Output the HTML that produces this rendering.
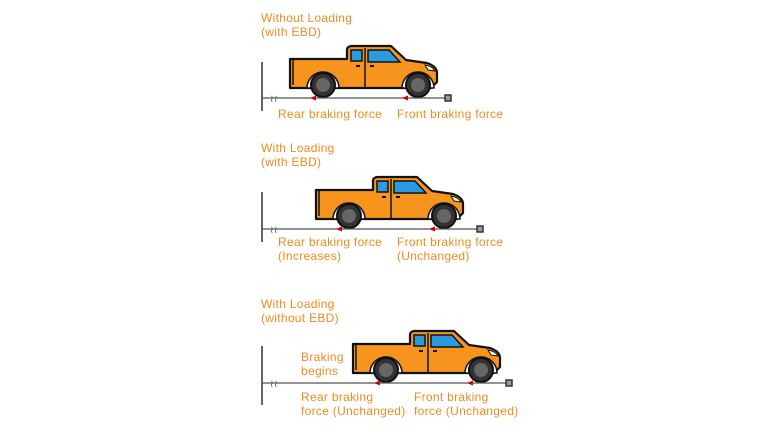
<!DOCTYPE html>
<html><head><style>
body{margin:0;background:#fff;width:770px;height:440px;overflow:hidden}
svg{position:absolute;left:0;top:0}
text{font-family:"Liberation Sans",sans-serif;font-size:12px;letter-spacing:0.3px;fill:#f28a1e}
</style></head><body>
<svg width="770" height="440" viewBox="0 0 770 440">
<defs>
<g id="truck">
<path d="M0,14 L57,14 L57,4 Q58,1 62,1 L101,1 L116,15 L137,18 Q146,21 147,27 L147,37 L141,43 L0,43 Z" fill="#f7941d" stroke="#111" stroke-width="2.2" stroke-linejoin="round"/>
<line x1="3" y1="15" x2="3" y2="40" stroke="#111" stroke-width="1.5"/>
<path d="M61,5 L72,5 L72,16 L61,16 Z" fill="#2a9be0" stroke="#111" stroke-width="1.5"/>
<path d="M78,5 L99,5 L110,17 L78,17 Z" fill="#2a9be0" stroke="#111" stroke-width="1.5"/>
<line x1="75" y1="3" x2="75" y2="42" stroke="#111" stroke-width="1.5"/>
<line x1="66" y1="21" x2="70" y2="21" stroke="#111" stroke-width="2"/>
<line x1="80" y1="21" x2="84" y2="21" stroke="#111" stroke-width="2"/>
<path d="M135,20 Q142,21 145,26 L138,25 Z" fill="#fff" stroke="#111" stroke-width="1"/>
<path d="M17,43 A16,16 0 0 1 49,43 Z" fill="#fff" stroke="#111" stroke-width="1.5"/>
<path d="M112,43 A16,16 0 0 1 144,43 Z" fill="#fff" stroke="#111" stroke-width="1.5"/>
<circle cx="33" cy="40" r="12" fill="#333" stroke="#111" stroke-width="2"/>
<circle cx="33" cy="40" r="7" fill="#666"/>
<circle cx="128" cy="40" r="12" fill="#333" stroke="#111" stroke-width="2"/>
<circle cx="128" cy="40" r="7" fill="#666"/>
</g>
</defs>

<text x="261" y="22">Without Loading</text>
<text x="261" y="36">(with EBD)</text>
<line x1="262" y1="62" x2="262" y2="111" stroke="#333" stroke-width="1.5"/>
<use href="#truck" x="290" y="45"/>
<line x1="262" y1="98" x2="446" y2="98" stroke="#555" stroke-width="1.3"/>
<rect x="445" y="95" width="6" height="6" fill="#999" stroke="#333" stroke-width="1.5"/>
<text x="270" y="102" style="font-size:10px;fill:#555">≀≀</text>
<path d="M310,98 L316,95.5 L316,100.5 Z" fill="#c00"/>
<path d="M402,98 L408,95.5 L408,100.5 Z" fill="#c00"/>
<text x="278" y="118">Rear braking force</text>
<text x="397" y="118">Front braking force</text>

<text x="261" y="152">With Loading</text>
<text x="261" y="166">(with EBD)</text>
<line x1="262" y1="192" x2="262" y2="242" stroke="#333" stroke-width="1.5"/>
<use href="#truck" x="316" y="176"/>
<line x1="262" y1="229" x2="478" y2="229" stroke="#555" stroke-width="1.3"/>
<rect x="477" y="226" width="6" height="6" fill="#999" stroke="#333" stroke-width="1.5"/>
<text x="270" y="233" style="font-size:10px;fill:#555">≀≀</text>
<path d="M336,229 L342,226.5 L342,231.5 Z" fill="#c00"/>
<path d="M429,229 L435,226.5 L435,231.5 Z" fill="#c00"/>
<text x="278" y="246">Rear braking force</text>
<text x="278" y="260">(Increases)</text>
<text x="397" y="246">Front braking force</text>
<text x="397" y="260">(Unchanged)</text>

<text x="261" y="308">With Loading</text>
<text x="261" y="322">(without EBD)</text>
<line x1="262" y1="346" x2="262" y2="405" stroke="#333" stroke-width="1.5"/>
<use href="#truck" x="353" y="330"/>
<line x1="262" y1="383" x2="507" y2="383" stroke="#555" stroke-width="1.3"/>
<rect x="506" y="380" width="6" height="6" fill="#999" stroke="#333" stroke-width="1.5"/>
<text x="270" y="387" style="font-size:10px;fill:#555">≀≀</text>
<path d="M374,383 L380,380.5 L380,385.5 Z" fill="#c00"/>
<path d="M467,383 L473,380.5 L473,385.5 Z" fill="#c00"/>
<text x="301" y="361">Braking</text>
<text x="301" y="375">begins</text>
<text x="301" y="401">Rear braking</text>
<text x="301" y="415">force (Unchanged)</text>
<text x="414" y="401">Front braking</text>
<text x="414" y="415">force (Unchanged)</text>
</svg>
</body></html>
